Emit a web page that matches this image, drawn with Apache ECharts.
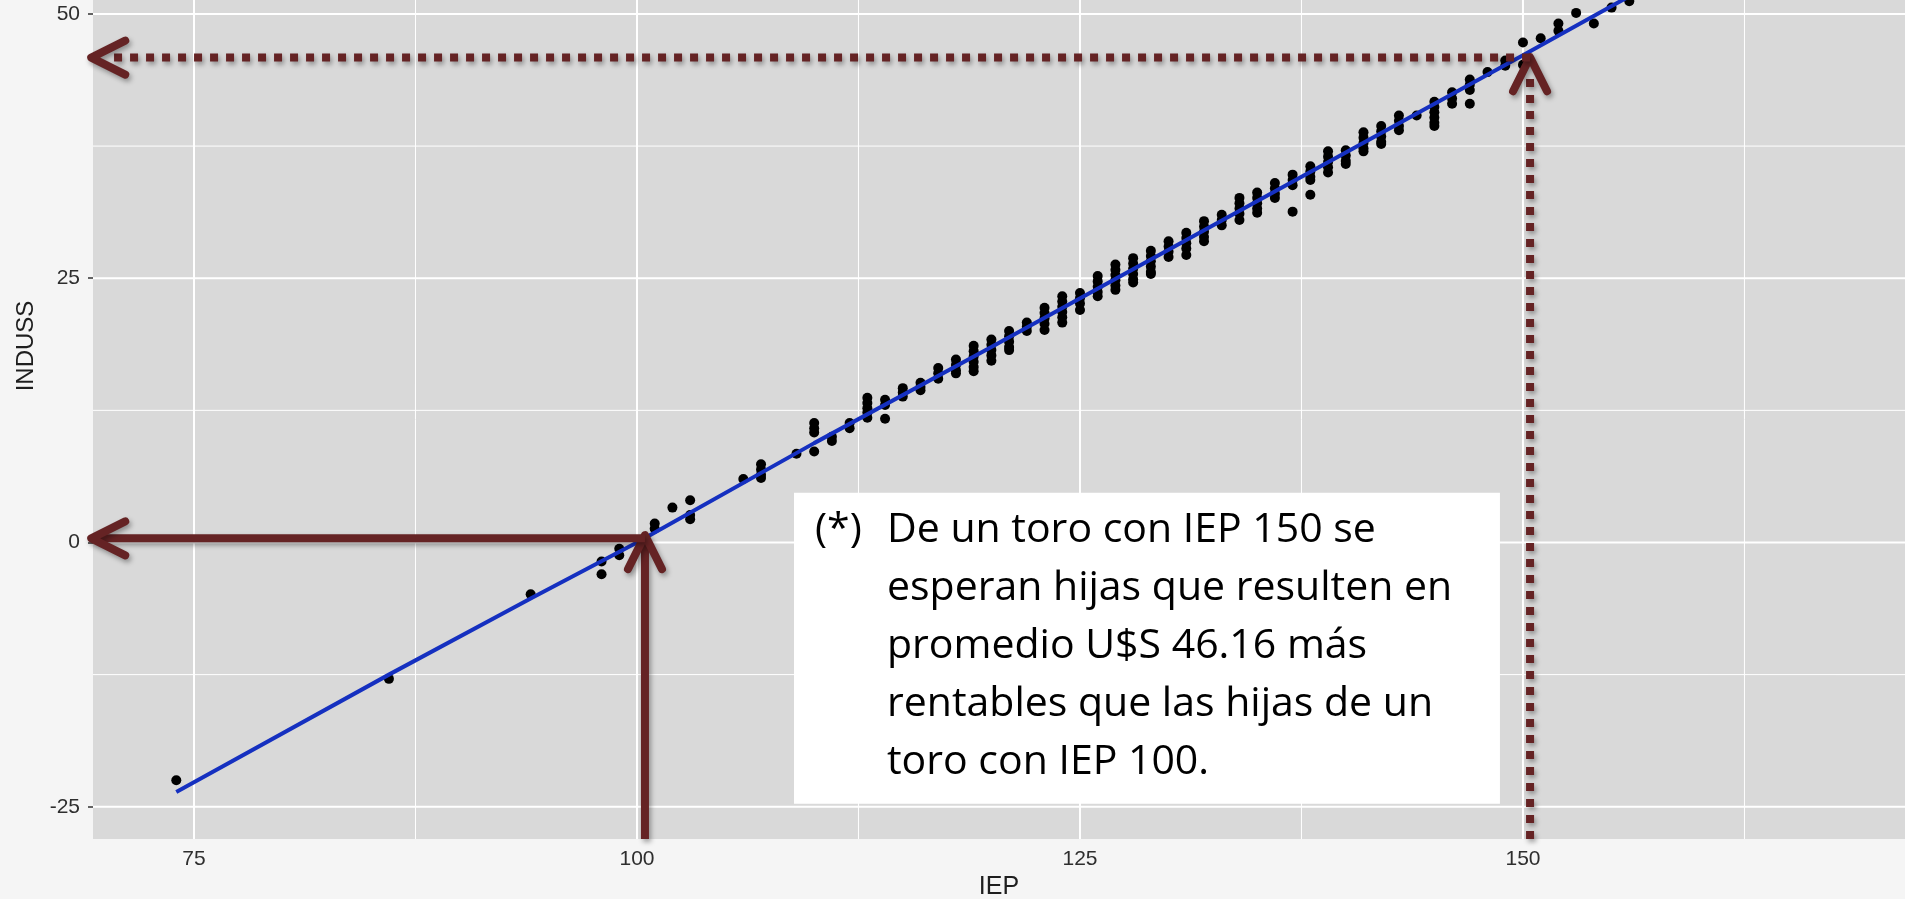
<!DOCTYPE html>
<html>
<head>
<meta charset="utf-8">
<script src="https://cdn.jsdelivr.net/npm/echarts@6/dist/echarts.min.js"></script>
<style>
html,body{margin:0;padding:0;background:#f5f5f5;}
#c{width:1905px;height:899px;}
</style>
</head>
<body>
<div id="c"></div>
<script>
// ---- data ----
const stackIEP = [74, 86, 94, 98, 99, 101, 102, 103, 106, 107, 109, 110, 111, 112, 113, 114, 115, 116, 117, 118, 119, 120,
  121, 122, 123, 124, 125, 126, 127, 128, 129, 130, 131, 132, 133, 134, 135, 136, 137, 138, 139, 140,
  141, 142, 143, 144, 145, 146, 147, 148, 149, 150, 151, 152, 153, 154, 155, 156];
const stackINDUSS = [
  [-22.5], [-12.9], [-4.9], [-1.8, -3.0], [-1.2, -0.6], [1.3, 1.8], [3.3], [4.0, 2.6, 2.2], [6.0], [7.4, 6.9, 6.4, 6.1],
  [8.4], [11.3, 10.8, 10.4, 8.6], [10.0, 9.6], [11.3, 10.8], [13.7, 13.2, 12.7, 12.3, 11.8], [13.5, 13.0, 11.7],
  [14.6, 14.2, 13.8], [15.1, 14.7, 14.4], [16.5, 16.0, 15.5], [17.3, 16.8, 16.3, 16.0],
  [18.6, 18.1, 17.6, 17.1, 16.6, 16.2], [19.2, 18.7, 18.2, 17.7, 17.2],
  [20.0, 19.5, 19.0, 18.5, 18.2], [20.8, 20.4, 20.0], [22.2, 21.7, 21.2, 20.7, 20.1], [23.3, 22.8, 22.3, 21.8, 21.3, 20.8],
  [23.6, 23.1, 22.6, 22.0], [25.2, 24.7, 24.2, 23.7, 23.3], [26.3, 25.8, 25.3, 24.8, 24.3, 23.9],
  [26.9, 26.4, 25.9, 25.4, 24.9, 24.6], [27.6, 27.1, 26.6, 26.1, 25.6, 25.4],
  [28.5, 28.0, 27.5, 27.0], [29.3, 28.8, 28.3, 27.8, 27.2], [30.4, 29.9, 29.4, 28.9, 28.5], [31.0, 30.5, 30.0],
  [32.6, 32.1, 31.6, 31.1, 30.5], [33.1, 32.6, 32.1, 31.6, 31.2], [34.0, 33.5, 33.0, 32.6], [34.8, 34.3, 33.8, 31.3],
  [35.6, 35.1, 34.6, 34.3, 32.9], [37.0, 36.5, 36.0, 35.5, 35.0], [37.1, 36.6, 36.1, 35.8],
  [38.8, 38.3, 37.8, 37.3, 37.0], [39.4, 38.9, 38.4, 37.9, 37.7], [40.4, 39.9, 39.4, 39.0],
  [40.4], [41.7, 41.2, 40.7, 40.2, 39.7, 39.4], [42.6, 42.0, 41.5], [43.8, 43.3, 42.8, 41.5], [44.5], [45.6, 45.1],
  [47.3, 45.2], [47.7], [49.1, 48.4], [50.1], [49.1], [50.6], [51.2]
];
const fitIEP = [74, 86, 94, 100, 110, 120, 130, 140, 150, 157];
const fitINDUSS = [-23.6, -12.5, -5.3, 0.0, 9.4, 18.5, 27.7, 36.9, 46.1, 52.6];

const xTicks = [75, 100, 125, 150];
const xMinor = [87.5, 112.5, 137.5, 162.5];
const yTicks = [-25, 0, 25, 50];
const yMinor = [-12.5, 12.5, 37.5];

const noteLines = [
  'De un toro con IEP 150 se',
  'esperan hijas que resulten en',
  'promedio U$S 46.16 más',
  'rentables que las hijas de un',
  'toro con IEP 100.'
];
const noteMark = '(*)';

// arrows: [fromX, fromY, toX, toY, dotted]
const arrowRows = [
  [100.45, -28.05, 100.45, 0.7, 0],
  [100.45, 0.39, 69.2, 0.39, 0],
  [150.4, -28.05, 150.4, 45.9, 1],
  [150.4, 45.87, 69.2, 45.87, 1]
];
const noteBox = [108.86, 4.7, 148.7, -24.72];

// ---- build ----
const points = [];
stackIEP.forEach((x, i) => stackINDUSS[i].forEach(y => points.push([x, y])));
const fitLine = fitIEP.map((x, i) => [x, fitINDUSS[i]]);

const xGrid = xTicks.map(v => [v, 1]).concat(xMinor.map(v => [v, 0]));
const yGrid = yTicks.map(v => [v, 1]).concat(yMinor.map(v => [v, 0]));

const arrowColor = '#652324';

function gridRender(isX) {
  return function (params, api) {
    const v = api.value(0);
    const major = api.value(1) === 1;
    const cs = params.coordSys;
    const style = { stroke: '#ffffff', lineWidth: major ? 2 : 1 };
    if (isX) {
      const p = api.coord([v, 0]);
      return { type: 'line', shape: { x1: p[0], y1: cs.y, x2: p[0], y2: cs.y + cs.height }, style };
    }
    const p = api.coord([100, v]);
    return { type: 'line', shape: { x1: cs.x, y1: p[1], x2: cs.x + cs.width, y2: p[1] }, style };
  };
}

function arrowRender(params, api) {
  const p1 = api.coord([api.value(0), api.value(1)]);
  const p2 = api.coord([api.value(2), api.value(3)]);
  const dotted = api.value(4) === 1;
  const dx = p2[0] - p1[0], dy = p2[1] - p1[1];
  const len = Math.hypot(dx, dy);
  const ux = dx / len, uy = dy / len, nx = -uy, ny = ux;
  const L = 34, W = 17;
  const back = dotted ? 20 : 4;
  const end = [p2[0] - ux * back, p2[1] - uy * back];
  const shadow = { shadowBlur: 5, shadowColor: 'rgba(0,0,0,0.35)', shadowOffsetX: 2, shadowOffsetY: 3 };
  return {
    type: 'group',
    children: [
      { type: 'line', shape: { x1: p1[0], y1: p1[1], x2: end[0], y2: end[1] },
        style: Object.assign({ stroke: arrowColor, lineWidth: 8, lineDash: dotted ? [8, 8] : null, lineCap: 'butt' }, shadow) },
      { type: 'polyline', shape: { points: [
          [p2[0] - ux * L + nx * W, p2[1] - uy * L + ny * W], [p2[0], p2[1]], [p2[0] - ux * L - nx * W, p2[1] - uy * L - ny * W]] },
        style: Object.assign({ stroke: arrowColor, fill: null, lineWidth: 8, lineCap: 'round', lineJoin: 'round' }, shadow) }
    ]
  };
}

function noteRender(params, api) {
  const a = api.coord([api.value(0), api.value(1)]);
  const b = api.coord([api.value(2), api.value(3)]);
  const font = { font: '41px "Open Sans"', fill: '#000', verticalAlign: 'middle', align: 'left' };
  const children = [
    { type: 'rect', shape: { x: a[0], y: a[1], width: b[0] - a[0], height: b[1] - a[1] }, style: { fill: '#ffffff' } },
    { type: 'text', x: a[0] + 21, y: a[1] + 38, style: Object.assign({ text: noteMark }, font) }
  ];
  noteLines.forEach((t, i) => {
    children.push({ type: 'text', x: a[0] + 93, y: a[1] + 38 + i * 57.8, style: Object.assign({ text: t }, font) });
  });
  return { type: 'group', children };
}

const chart = echarts.init(document.getElementById('c'), null, { renderer: 'canvas' });
chart.setOption({
  animation: false,
  backgroundColor: '#f5f5f5',
  grid: { left: 93, right: 0, top: 0, bottom: 60, show: true, backgroundColor: '#d9d9d9', borderWidth: 0,
          containLabel: false, outerBoundsMode: 'none' },
  xAxis: {
    type: 'value', min: 69.3, max: 171.56,
    axisLine: { show: false }, splitLine: { show: false },
    axisTick: { show: true, customValues: xTicks, length: 5, lineStyle: { color: '#333', width: 1.5 } },
    axisLabel: { customValues: xTicks, fontSize: 21, color: '#2e2e2e', margin: 10, fontFamily: 'Liberation Sans' },
    name: 'IEP', nameLocation: 'middle', nameGap: 36,
    nameTextStyle: { fontSize: 25, color: '#1e1e1e', fontFamily: 'Liberation Sans' }
  },
  yAxis: {
    type: 'value', min: -28.05, max: 51.32,
    axisLine: { show: false }, splitLine: { show: false },
    axisTick: { show: true, customValues: yTicks, length: 5, lineStyle: { color: '#333', width: 1.5 } },
    axisLabel: { customValues: yTicks, fontSize: 21, color: '#2e2e2e', margin: 13, fontFamily: 'Liberation Sans' },
    name: 'INDUSS', nameLocation: 'middle', nameRotate: 90, nameGap: 54,
    nameTextStyle: { fontSize: 24, color: '#1e1e1e', fontFamily: 'Liberation Sans', padding: [0, 0, 0, 147] }
  },
  series: [
    { type: 'custom', z: 1, silent: true, renderItem: gridRender(true), data: xGrid },
    { type: 'custom', z: 1, silent: true, renderItem: gridRender(false), data: yGrid },
    { type: 'scatter', z: 2, silent: true, symbolSize: 10, itemStyle: { color: '#000', opacity: 1 }, data: points },
    { type: 'line', z: 3, silent: true, showSymbol: false, clip: true, lineStyle: { color: '#1530c0', width: 4 }, data: fitLine },
    { type: 'custom', z: 4, silent: true, renderItem: noteRender, data: [noteBox] },
    { type: 'custom', z: 5, silent: true, renderItem: arrowRender, data: arrowRows, encode: { x: [0, 2], y: [1, 3] } }
  ]
});
</script>
</body>
</html>
